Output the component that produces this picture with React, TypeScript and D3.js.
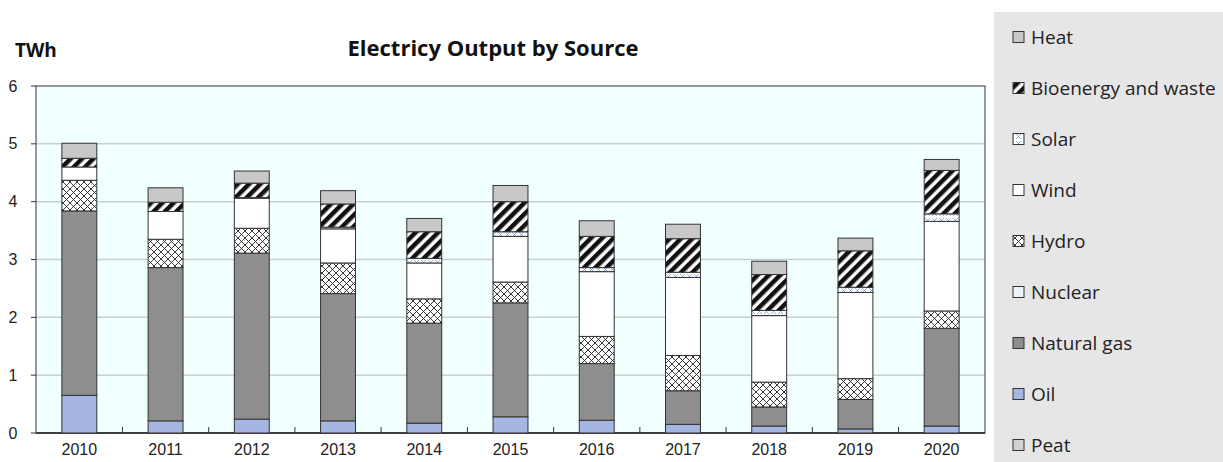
import React from "react";
import * as d3 from "d3";

const width = 1223;
const height = 462;

const years = ["2010", "2011", "2012", "2013", "2014", "2015", "2016", "2017", "2018", "2019", "2020"];
const peat = [0, 0, 0, 0, 0, 0, 0, 0, 0, 0, 0];
const oil = [0.65, 0.21, 0.24, 0.21, 0.17, 0.28, 0.22, 0.15, 0.12, 0.07, 0.12];
const naturalGas = [3.19, 2.65, 2.87, 2.2, 1.73, 1.97, 0.98, 0.58, 0.33, 0.51, 1.69];
const nuclear = [0, 0, 0, 0, 0, 0, 0, 0, 0, 0, 0];
const hydro = [0.53, 0.49, 0.43, 0.53, 0.42, 0.36, 0.47, 0.61, 0.43, 0.36, 0.3];
const wind = [0.23, 0.48, 0.52, 0.59, 0.62, 0.79, 1.12, 1.35, 1.15, 1.49, 1.55];
const solar = [0, 0, 0.01, 0.03, 0.08, 0.08, 0.07, 0.09, 0.09, 0.09, 0.13];
const bioenergy = [0.15, 0.16, 0.25, 0.4, 0.46, 0.52, 0.54, 0.58, 0.62, 0.63, 0.75];
const heat = [0.26, 0.25, 0.21, 0.23, 0.23, 0.28, 0.27, 0.25, 0.23, 0.22, 0.19];
const yTicks = [0, 1, 2, 3, 4, 5, 6];

const seriesKeys = ["Peat", "Oil", "Natural gas", "Nuclear", "Hydro", "Wind", "Solar", "Bioenergy and waste", "Heat"];
const seriesValues = [peat, oil, naturalGas, nuclear, hydro, wind, solar, bioenergy, heat];
const seriesFill: Record<string, string> = {
  Peat: "#d2d2d2",
  Oil: "#a6b6e2",
  "Natural gas": "#8e8e8e",
  Nuclear: "#eef2fa",
  Hydro: "url(#pat-hydro)",
  Wind: "#ffffff",
  Solar: "url(#pat-solar)",
  "Bioenergy and waste": "url(#pat-bio)",
  Heat: "#c8c8c8",
};

const rows = years.map((year, i) => {
  const row: Record<string, any> = { year };
  seriesKeys.forEach((k, j) => (row[k] = seriesValues[j][i]));
  return row;
});

const plot = { left: 36, right: 985, top: 86, bottom: 433 };

const x = d3.scaleBand().domain(years).range([plot.left, plot.right]).paddingInner(0.595).paddingOuter(0.3);
const y = d3.scaleLinear().domain([0, 6]).range([plot.bottom, plot.top]);

const stacked = d3.stack().keys(seriesKeys)(rows as any);

const legendKeys = [...seriesKeys].reverse();

const uiFont = "'Open Sans', Lato, sans-serif";
const tickFont = "'Liberation Sans', Arial, sans-serif";

const App = () => (
  <svg width={width} height={height} style={{ position: "absolute", left: 0, top: 0 }}>
    <defs>
      <pattern id="pat-hydro" width="7" height="7" patternUnits="userSpaceOnUse">
        <rect width="7" height="7" fill="#fff" />
        <path d="M0,0L7,7M7,0L0,7" stroke="#222" strokeWidth="0.9" />
      </pattern>
      <pattern id="pat-bio" width="8" height="8" patternUnits="userSpaceOnUse" patternTransform="rotate(45)">
        <rect width="8" height="8" fill="#fff" />
        <rect width="4.5" height="8" fill="#111" />
      </pattern>
      <pattern id="pat-solar" width="7" height="7" patternUnits="userSpaceOnUse">
        <rect width="7" height="7" fill="#fff" />
        <path d="M1,1L6,6M6,1L1,6" stroke="#7a9ad6" strokeWidth="0.8" />
      </pattern>
    </defs>

    <text x={15} y={57} fontFamily={uiFont} fontWeight="bold" fontSize={19} fill="#111">TWh</text>
    <text x={493} y={56} textAnchor="middle" fontFamily={uiFont} fontWeight="bold" fontSize={22} fill="#111">
      Electricy Output by Source
    </text>

    <rect x={plot.left} y={plot.top} width={plot.right - plot.left} height={plot.bottom - plot.top} fill="#f2ffff" />
    {yTicks.slice(1, -1).map((t) => (
      <line key={t} x1={plot.left} x2={plot.right} y1={y(t)} y2={y(t)} stroke="#c6d0d0" strokeWidth={1.5} />
    ))}
    <rect x={plot.left} y={plot.top} width={plot.right - plot.left} height={plot.bottom - plot.top} fill="none" stroke="#555" strokeWidth={1.2} />

    {yTicks.map((t) => (
      <g key={t}>
        <line x1={plot.left - 5} x2={plot.left} y1={y(t)} y2={y(t)} stroke="#333" />
        <text x={13} y={y(t)} dy="0.35em" textAnchor="middle" fontFamily={tickFont} fontSize={16} fill="#222">
          {t}
        </text>
      </g>
    ))}

    {years.slice(1).map((yr) => {
      const bx = (x(yr) as number) - (x.step() - x.bandwidth()) / 2;
      return <line key={yr} x1={bx} x2={bx} y1={plot.bottom} y2={plot.bottom - 6} stroke="#333" />;
    })}
    <line x1={plot.left} x2={plot.right} y1={plot.bottom} y2={plot.bottom} stroke="#222" strokeWidth={1.5} />

    {stacked.map((s) => (
      <g key={s.key} fill={seriesFill[s.key]}>
        {s.map((d, i) =>
          d[1] - d[0] > 0 ? (
            <rect
              key={years[i]}
              x={x(years[i])}
              y={y(d[1])}
              width={x.bandwidth()}
              height={y(d[0]) - y(d[1])}
              stroke="#333"
              strokeWidth={1}
            />
          ) : null
        )}
      </g>
    ))}

    {years.map((yr) => (
      <text
        key={yr}
        x={(x(yr) as number) + x.bandwidth() / 2}
        y={449}
        dy="0.35em"
        textAnchor="middle"
        fontFamily={tickFont}
        fontSize={16}
        fill="#222"
      >
        {yr}
      </text>
    ))}

    <rect x={994} y={12} width={width - 994} height={height - 12} fill="#e6e6e6" />
    {legendKeys.map((k, i) => {
      const ly = 37 + i * 51;
      return (
        <g key={k}>
          <rect x={1013} y={ly - 5.5} width={11} height={11} fill={seriesFill[k]} stroke="#333" strokeWidth={1} />
          <text x={1031} y={ly} dy="0.35em" fontFamily={uiFont} fontSize={19} fill="#222">
            {k}
          </text>
        </g>
      );
    })}
  </svg>
);

export default App;
